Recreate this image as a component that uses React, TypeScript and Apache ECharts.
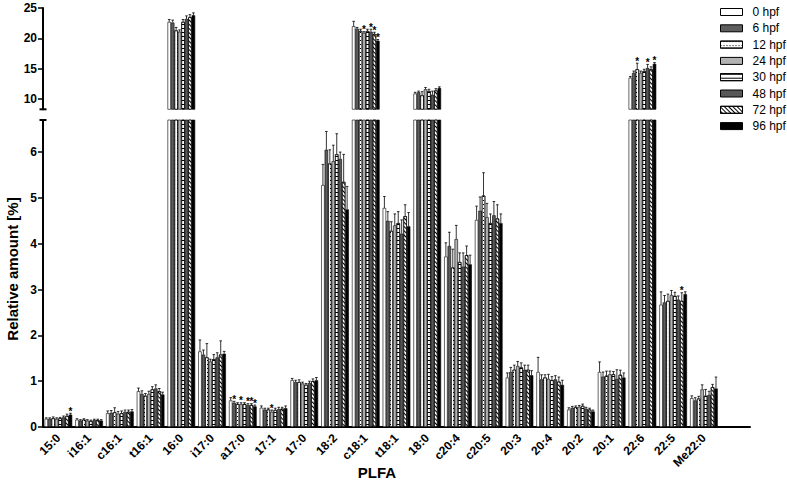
import React, { useEffect, useRef } from "react";
import * as echarts from "echarts";

const categories = ["15:0", "i16:1", "c16:1", "t16:1", "16:0", "i17:0", "a17:0", "17:1", "17:0", "18:2", "c18:1", "t18:1", "18:0", "c20:4", "c20:5", "20:3", "20:4", "20:2", "20:1", "22:6", "22:5", "Me22:0"];
const seriesNames = ["0 hpf", "6 hpf", "12 hpf", "24 hpf", "30 hpf", "48 hpf", "72 hpf", "96 hpf"];

const hpf0 = [0.18, 0.16, 0.30, 0.78, 22.7, 1.65, 0.58, 0.42, 1.02, 5.28, 22.0, 4.78, 10.9, 3.72, 4.52, 1.08, 1.20, 0.38, 1.20, 13.5, 2.67, 0.63];
const hpf6 = [0.18, 0.14, 0.31, 0.72, 22.6, 1.58, 0.53, 0.38, 0.98, 6.05, 21.6, 4.50, 11.1, 3.95, 4.72, 1.20, 1.04, 0.42, 1.10, 14.3, 2.72, 0.58];
const hpf12 = [0.19, 0.16, 0.32, 0.68, 21.3, 1.52, 0.50, 0.38, 0.98, 5.75, 21.2, 4.28, 10.6, 3.48, 5.05, 1.25, 1.08, 0.43, 1.12, 14.9, 2.75, 0.62];
const hpf24 = [0.18, 0.14, 0.29, 0.72, 21.1, 1.43, 0.50, 0.33, 0.95, 5.80, 20.9, 4.40, 11.6, 4.10, 4.58, 1.33, 1.05, 0.44, 1.15, 14.3, 2.88, 0.82];
const hpf30 = [0.19, 0.13, 0.30, 0.82, 22.7, 1.48, 0.50, 0.37, 0.92, 5.95, 21.2, 4.45, 11.3, 3.60, 4.45, 1.30, 1.02, 0.46, 1.15, 14.6, 2.86, 0.68];
const hpf48 = [0.21, 0.15, 0.33, 0.84, 23.2, 1.52, 0.48, 0.39, 0.96, 5.85, 21.1, 4.22, 10.7, 3.50, 4.62, 1.25, 1.04, 0.40, 1.05, 15.1, 2.78, 0.70];
const hpf72 = [0.24, 0.15, 0.33, 0.78, 23.5, 1.58, 0.48, 0.40, 1.00, 5.35, 20.7, 4.60, 11.4, 3.75, 4.55, 1.25, 0.99, 0.38, 1.14, 14.9, 2.75, 0.87];
const hpf96 = [0.27, 0.14, 0.34, 0.71, 23.8, 1.60, 0.45, 0.41, 1.02, 4.75, 19.6, 4.38, 11.8, 3.55, 4.45, 1.13, 0.92, 0.34, 1.08, 15.8, 2.90, 0.84];

const err0 = [0.02, 0.02, 0.05, 0.07, 0.4, 0.25, 0.06, 0.04, 0.04, 0.45, 0.8, 0.25, 0.2, 0.3, 0.3, 0.1, 0.32, 0.04, 0.22, 0.2, 0.28, 0.05];
const err6 = [0.02, 0.02, 0.05, 0.07, 0.4, 0.10, 0.03, 0.03, 0.04, 0.40, 0.2, 0.20, 0.2, 0.3, 0.3, 0.1, 0.10, 0.03, 0.10, 0.3, 0.15, 0.06];
const err12 = [0.03, 0.02, 0.10, 0.05, 0.5, 0.30, 0.03, 0.03, 0.05, 0.30, 0.3, 0.20, 0.6, 0.4, 0.5, 0.1, 0.06, 0.03, 0.10, 1.0, 0.15, 0.05];
const err24 = [0.02, 0.02, 0.05, 0.06, 0.3, 0.05, 0.03, 0.04, 0.03, 0.35, 0.2, 0.25, 0.3, 0.3, 0.3, 0.1, 0.10, 0.03, 0.07, 0.3, 0.10, 0.10];
const err30 = [0.02, 0.02, 0.05, 0.06, 0.4, 0.10, 0.03, 0.04, 0.03, 0.45, 0.3, 0.25, 0.3, 0.2, 0.2, 0.1, 0.08, 0.04, 0.06, 0.3, 0.08, 0.14];
const err48 = [0.03, 0.02, 0.04, 0.08, 0.5, 0.10, 0.03, 0.04, 0.04, 0.15, 0.4, 0.30, 0.6, 0.3, 0.3, 0.1, 0.08, 0.03, 0.20, 0.6, 0.08, 0.08];
const err72 = [0.04, 0.02, 0.04, 0.06, 0.4, 0.30, 0.03, 0.03, 0.05, 0.60, 0.3, 0.25, 0.3, 0.2, 0.3, 0.1, 0.10, 0.03, 0.10, 0.4, 0.18, 0.06];
const err96 = [0.03, 0.02, 0.04, 0.05, 0.4, 0.05, 0.03, 0.05, 0.06, 0.50, 0.2, 0.30, 0.2, 0.2, 0.2, 0.1, 0.10, 0.03, 0.10, 0.2, 0.05, 0.25];

// significance markers: [category index, series index]
const stars = [[0, 7], [6, 1], [6, 3], [6, 5], [6, 6], [6, 7], [7, 3], [10, 3], [10, 5], [10, 6], [10, 7], [19, 2], [19, 5], [19, 7], [20, 6]];

const upperTicks = [10, 15, 20, 25];
const lowerTicks = [0, 1, 2, 3, 4, 5, 6];

const valueArrays = [hpf0, hpf6, hpf12, hpf24, hpf30, hpf48, hpf72, hpf96];
const errorArrays = [err0, err6, err12, err24, err30, err48, err72, err96];

const FONT = "'Liberation Sans', Arial, sans-serif";
const fills = ["#ffffff", "#5e5e5e", "#ffffff", "#b3b3b3", "#ffffff", "#575757", "#ffffff", "#000000"];
const decals: any[] = [
  null,
  null,
  { symbol: "rect", symbolSize: 1, dashArrayX: [1, 2], dashArrayY: [1, 3], color: "#000" },
  null,
  { symbol: "rect", symbolSize: 1, dashArrayX: [1, 0], dashArrayY: [1, 3], color: "#000" },
  null,
  { symbol: "rect", symbolSize: 1, dashArrayX: [1, 0], dashArrayY: [1, 2], rotation: Math.PI / 4, color: "#000" },
  null,
];

export default function App() {
  const ref = useRef<HTMLDivElement>(null);
  useEffect(() => {
    document.body.style.margin = "0";
    if (!ref.current) return;
    const chart = echarts.init(ref.current, null, { renderer: "svg" });
    const cats = [...categories, ""];
    const gridLeft = 43;
    const gridRight = 37;

    const series: any[] = [];
    for (let gi = 0; gi < 2; gi++) {
      for (let s = 0; s < 8; s++) {
        const itemStyle: any = { color: fills[s], borderColor: "#000", borderWidth: 0.6 };
        if (decals[s]) itemStyle.decal = decals[s];
        series.push({
          type: "bar",
          name: seriesNames[s],
          xAxisIndex: gi,
          yAxisIndex: gi,
          data: valueArrays[s],
          barGap: "0%",
          barCategoryGap: "10%",
          clip: true,
          itemStyle,
          emphasis: { disabled: true },
        });
      }
    }
    for (let gi = 0; gi < 2; gi++) {
      for (let s = 0; s < 8; s++) {
        series.push({
          type: "custom",
          name: "err" + gi + "_" + s,
          xAxisIndex: gi,
          yAxisIndex: gi,
          z: 5,
          silent: true,
          color: "#000",
          itemStyle: { color: "#000" },
          encode: { x: 0, y: 1 },
          data: valueArrays[s].map((v, i) => [i, v, errorArrays[s][i], stars.some(([c, k]) => c === i && k === s) ? 1 : 0]),
          renderItem: (params: any, api: any) => {
            const ci = api.value(0);
            const v = api.value(1);
            const e = api.value(2);
            const st = api.value(3);
            const band = api.size([1, 0])[0];
            const bw = (band * 0.9) / 8;
            const c = api.coord([ci, v]);
            const x = c[0] + (s - 3.5) * bw;
            const yBar = c[1];
            const yTop = api.coord([ci, v + e])[1];
            const cs = params.coordSys;
            if (yBar > cs.y + cs.height + 0.5 || yBar < cs.y - 0.5) return null;
            const children: any[] = [
              { type: "line", shape: { x1: x, y1: yBar, x2: x, y2: yTop }, style: { stroke: "#000", lineWidth: 0.8 } },
              { type: "line", shape: { x1: x - 1.3, y1: yTop, x2: x + 1.3, y2: yTop }, style: { stroke: "#000", lineWidth: 0.8 } },
            ];
            if (st) {
              children.push({
                type: "text",
                x: x,
                y: yTop + 3,
                style: { text: "*", align: "center", verticalAlign: "bottom", font: "bold 10px " + FONT, fill: "#000", textFill: "#000" },
              });
            }
            return { type: "group", children };
          },
        });
      }
    }

    const axisLabelY = { fontFamily: FONT, fontWeight: "bold", fontSize: 12, color: "#000", margin: 6 };

    chart.setOption({
      animation: false,
      backgroundColor: "#fff",
      color: ["#000000"],
      grid: [
        { left: gridLeft, right: gridRight, top: 8, height: 101.3 },
        { left: gridLeft, right: gridRight, top: 120, bottom: 64 },
      ],
      legend: {
        data: seriesNames,
        orient: "vertical",
        left: 720,
        top: 5,
        padding: 0,
        itemWidth: 22,
        itemHeight: 7,
        itemGap: 2.3,
        icon: "rect",
        selectedMode: false,
        itemStyle: { borderColor: "#000", borderWidth: 1 },
        textStyle: { fontFamily: FONT, fontSize: 12, color: "#000", lineHeight: 14, padding: [0, 0, 0, 5] },
      },
      xAxis: [
        {
          type: "category",
          gridIndex: 0,
          data: cats,
          axisLine: { show: false },
          axisTick: { show: false },
          axisLabel: { show: false },
        },
        {
          type: "category",
          gridIndex: 1,
          data: cats,
          axisLine: { lineStyle: { color: "#000", width: 2 } },
          axisTick: {
            alignWithLabel: true,
            length: 5,
            lineStyle: { color: "#000", width: 1.5 },
            interval: (index: number, value: string) => value !== "",
          },
          axisLabel: { rotate: 45, interval: 0, fontFamily: FONT, fontWeight: "bold", fontSize: 12, color: "#000", margin: 9 },
        },
      ],
      yAxis: [
        {
          type: "value",
          gridIndex: 0,
          min: 8.3,
          max: 25,
          splitLine: { show: false },
          axisLine: { show: true, lineStyle: { color: "#000", width: 2 } },
          axisTick: { show: true, length: 5, lineStyle: { color: "#000", width: 1.5 }, customValues: upperTicks },
          axisLabel: { ...axisLabelY, customValues: upperTicks },
        },
        {
          type: "value",
          gridIndex: 1,
          min: 0,
          max: 6.7,
          splitLine: { show: false },
          axisLine: { show: true, lineStyle: { color: "#000", width: 2 } },
          axisTick: { show: true, length: 5, lineStyle: { color: "#000", width: 1.5 }, customValues: lowerTicks },
          axisLabel: { ...axisLabelY, customValues: lowerTicks },
        },
      ],
      graphic: [
        { type: "line", shape: { x1: gridLeft - 3.5, y1: 109.3, x2: gridLeft + 3.5, y2: 109.3 }, style: { stroke: "#000", lineWidth: 2 } },
        { type: "line", shape: { x1: gridLeft - 3.5, y1: 120, x2: gridLeft + 3.5, y2: 120 }, style: { stroke: "#000", lineWidth: 2 } },
        {
          type: "text",
          x: 12,
          y: 269,
          rotation: Math.PI / 2,
          style: { text: "Relative amount [%]", align: "center", verticalAlign: "middle", font: "bold 15px " + FONT, fill: "#000" },
        },
        {
          type: "text",
          x: 377,
          y: 472,
          style: { text: "PLFA", align: "center", verticalAlign: "middle", font: "bold 15px " + FONT, fill: "#000" },
        },
      ],
      series,
    });
    return () => chart.dispose();
  }, []);
  return <div ref={ref} style={{ width: 787, height: 491 }} />;
}
